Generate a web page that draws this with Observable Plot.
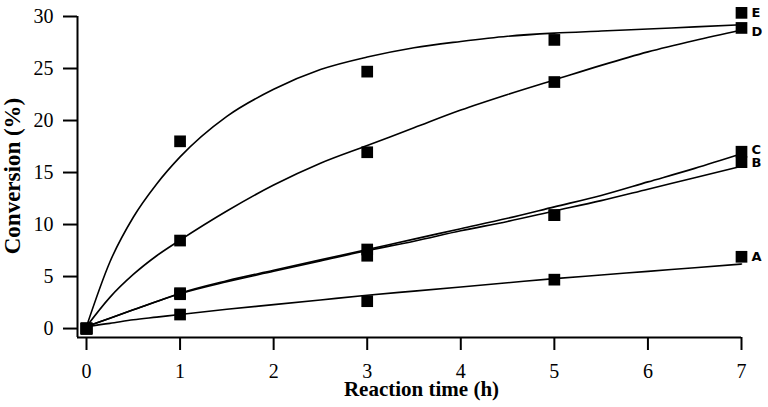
<!DOCTYPE html>
<html><head><meta charset="utf-8">
<script src="https://cdn.jsdelivr.net/npm/d3@7"></script>
<script src="https://cdn.jsdelivr.net/npm/@observablehq/plot@0.6"></script>
<style>
body{margin:0;background:#fff}
svg g[aria-label$="tick"] path, svg g[aria-label$="axis"] line, svg g[aria-label$="tick"] line{stroke-width:2px}
</style>
</head><body><div id="chart"></div>
<script>
// Series names and measured data
const seriesNames = ["A", "B", "C", "D", "E"];
const sampleTimes = [0, 1, 3, 5, 7];
const measA = [0, 1.35, 2.63, 4.7, 6.9];
const measB = [0, 3.3, 7.0, 10.9, 16.0];
const measC = [0, 3.4, 7.6, 10.9, 17.0];
const measD = [0, 8.46, 16.95, 23.7, 28.9];
const measE = [0, 18.0, 24.7, 27.75, 30.35];

// Fitted curves
const fitTimes = [0, 0.25, 0.5, 0.75, 1, 1.5, 2, 2.5, 3, 3.5, 4, 4.5, 5, 5.5, 6, 6.5, 7];
const fitA = [0.2, 0.5, 0.85, 1.1, 1.35, 1.85, 2.3, 2.75, 3.2, 3.6, 4.0, 4.4, 4.8, 5.15, 5.5, 5.85, 6.2];
const fitB = [0.2, 1.0, 1.8, 2.6, 3.35, 4.5, 5.5, 6.5, 7.5, 8.4, 9.4, 10.3, 11.3, 12.3, 13.4, 14.5, 15.6];
const fitC = [0.2, 1.0, 1.8, 2.6, 3.4, 4.6, 5.6, 6.6, 7.6, 8.6, 9.6, 10.6, 11.7, 12.8, 14.1, 15.4, 16.8];
const fitD = [0.2, 3.0, 5.2, 7.0, 8.5, 11.3, 13.8, 15.9, 17.6, 19.3, 21.0, 22.5, 23.9, 25.3, 26.6, 27.7, 28.7];
const fitE = [0.2, 6.4, 10.7, 13.9, 16.5, 20.4, 23.0, 24.9, 26.1, 27.0, 27.6, 28.1, 28.4, 28.6, 28.8, 29.0, 29.2];

const xTicks = [0, 1, 2, 3, 4, 5, 6, 7];
const yTicks = [0, 5, 10, 15, 20, 25, 30];
const xTitle = "Reaction time (h)";
const yTitle = "Conversion (%)";

const measured = [measA, measB, measC, measD, measE];
const fits = [fitA, fitB, fitC, fitD, fitE];

const measData = seriesNames.flatMap((s, k) => sampleTimes.map((t, i) => ({series: s, t, v: measured[k][i]})));
const fitData = seriesNames.flatMap((s, k) => fitTimes.map((t, i) => ({series: s, t, v: fits[k][i]})));
const lastData = seriesNames.map((s, k) => ({series: s, t: sampleTimes[sampleTimes.length - 1], v: measured[k][sampleTimes.length - 1]}));

const xMin = -0.0962, yMin = -0.86;
const serif = "Liberation Serif";
const labelStyle = {x: "t", y: "v", text: "series", dx: 10, textAnchor: "start", lineAnchor: "middle", fontFamily: "DejaVu Sans", fontWeight: "bold", fontSize: 13};
const labelsFor = (names) => lastData.filter(d => names.includes(d.series));

const chart = Plot.plot({
  width: 768,
  height: 407,
  marginLeft: 77,
  marginRight: 27,
  marginTop: 16,
  marginBottom: 70,
  style: {fontFamily: serif, fontSize: "20px", background: "white", color: "black", overflow: "visible"},
  x: {domain: [xMin, 7], ticks: xTicks, tickSize: 13, label: null, tickFormat: () => ""},
  y: {domain: [yMin, 30], ticks: yTicks, tickSize: 14, label: null, tickFormat: () => ""},
  marks: [
    Plot.ruleX([xMin], {stroke: "black", strokeWidth: 2}),
    Plot.ruleY([yMin], {stroke: "black", strokeWidth: 2}),
    // tick labels
    Plot.text(xTicks, {x: d => d, text: d => String(d), frameAnchor: "bottom", textAnchor: "middle", lineAnchor: "middle", dy: 34, fontFamily: serif, fontSize: 20}),
    Plot.text(yTicks, {y: d => d, text: d => String(d), frameAnchor: "left", textAnchor: "end", lineAnchor: "middle", dx: -24, fontFamily: serif, fontSize: 20}),
    Plot.line(fitData, {x: "t", y: "v", z: "series", curve: "monotone-x", stroke: "black", strokeWidth: 1.6}),
    Plot.dot(measData, {x: "t", y: "v", symbol: "square", r: 6.6, fill: "black", stroke: "none"}),
    Plot.text(labelsFor(["A", "E"]), labelStyle),
    Plot.text(labelsFor(["D"]), {...labelStyle, dy: 4}),
    Plot.text(labelsFor(["C"]), {...labelStyle, dy: -2}),
    Plot.text(labelsFor(["B"]), {...labelStyle, dy: 1}),
    Plot.text([xTitle], {frameAnchor: "middle", textAnchor: "middle", lineAnchor: "middle", dx: 12, dy: 212, fontFamily: serif, fontWeight: "bold", fontSize: 21}),
    Plot.text([yTitle], {frameAnchor: "middle", rotate: -90, textAnchor: "middle", lineAnchor: "middle", dx: -397, dy: -1, fontFamily: serif, fontWeight: "bold", fontSize: 23})
  ]
});
document.getElementById("chart").appendChild(chart);
</script>
</body></html>
